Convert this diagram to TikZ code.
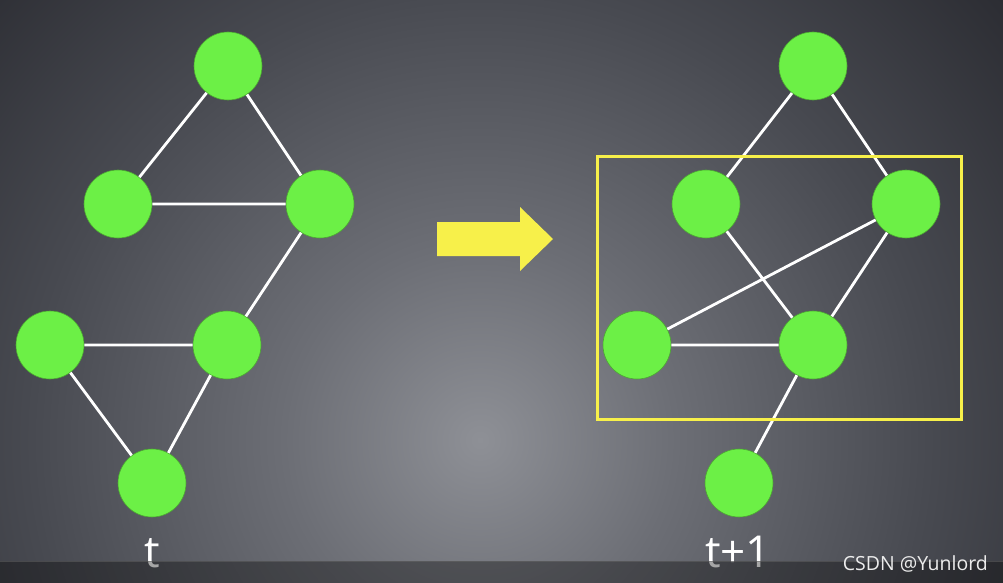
\documentclass[tikz,border=0pt]{standalone}
\usepackage{fontspec}
\setmainfont{Open Sans}
\definecolor{bgA}{HTML}{8E9096}
\definecolor{bgB}{HTML}{6C6E75}
\definecolor{bgC}{HTML}{484A51}
\definecolor{bgD}{HTML}{2A2B31}
\definecolor{nodegreen}{HTML}{6CF046}
\definecolor{ylw}{HTML}{F7F04A}
\pgfdeclareradialshading{bgshade}{\pgfpoint{0bp}{0bp}}{color(0bp)=(bgA); color(7bp)=(bgB); color(16bp)=(bgC); color(25bp)=(bgD); color(50bp)=(bgD)}
\tikzset{
  vtx/.style={circle, fill=nodegreen, draw=nodegreen!70!black, line width=0.6pt, minimum size=68pt, inner sep=0pt},
  edge/.style={draw=white, line width=2.8pt},
  lbl/.style={text=white, font=\fontsize{44}{44}\selectfont, anchor=base, inner sep=0pt}
}
\begin{document}
\begin{tikzpicture}[x=1pt,y=-1pt]
\useasboundingbox (0,0) rectangle (1003,583);
\begin{scope}
\clip (0,0) rectangle (1003,583);
\shade[shading=bgshade] (480,440) circle (700);
\end{scope}
% left graph
\node[vtx] (a1) at (228,66) {};
\node[vtx] (b1) at (118,204) {};
\node[vtx] (c1) at (320,204) {};
\node[vtx] (d1) at (50,345) {};
\node[vtx] (e1) at (227,345) {};
\node[vtx] (f1) at (152,483) {};
% right graph
\node[vtx] (a2) at (813,66) {};
\node[vtx] (b2) at (706,204) {};
\node[vtx] (c2) at (906,204) {};
\node[vtx] (d2) at (637,345) {};
\node[vtx] (e2) at (813,345) {};
\node[vtx] (f2) at (739,483) {};
\path[edge] (a1) -- (b1) (a1) -- (c1) (b1) -- (c1) (c1) -- (e1) (d1) -- (e1) (d1) -- (f1) (e1) -- (f1);
\path[edge] (a2) -- (b2) (a2) -- (c2) (b2) -- (e2) (c2) -- (d2) (c2) -- (e2) (d2) -- (e2) (e2) -- (f2);
% arrow
\fill[ylw] (437,222) -- (520,222) -- (520,207) -- (553,239) -- (520,271) -- (520,256) -- (437,256) -- cycle;
% box
\draw[ylw, line width=3pt] (597,156) rectangle (961,419);
% labels
\node[lbl] (tl) at (152,567) {t};
\node[lbl] (tr) at (738,567) {t+1};
% bottom strip
\fill[black, opacity=0.35] (0,561) rectangle (1003,583);
\draw[black!60, opacity=0.5, line width=0.8pt] (0,561) -- (1003,561);
\node[text=white!85!gray, font=\fontsize{19.5}{19.5}\selectfont, anchor=base east, inner sep=0pt] (wm) at (988,570) {CSDN @Yunlord};
\end{tikzpicture}
\end{document}
